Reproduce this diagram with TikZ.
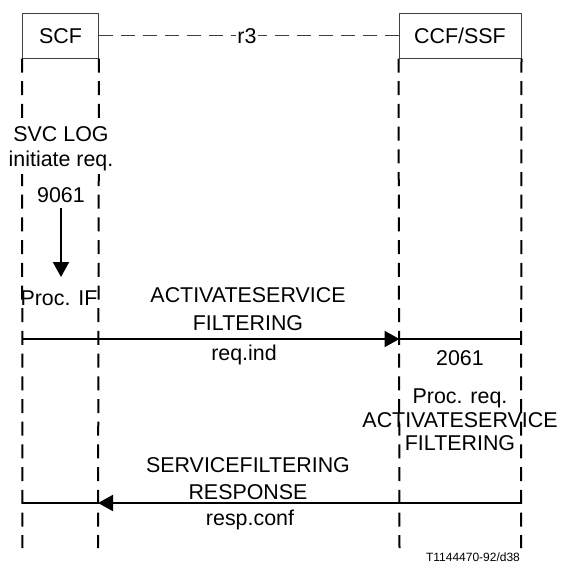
\documentclass[tikz,border=0pt]{standalone}
\usepackage{fontspec}
\setmainfont{Liberation Sans}
\usetikzlibrary{arrows.meta}
\tikzset{
  box/.style={draw=black!75, line width=1pt, minimum height=45pt, inner sep=0pt},
  lifeline/.style={line width=2pt, dash pattern=on 14pt off 8.7pt},
  linkline/.style={draw=black!75, line width=1pt, dash pattern=on 14pt off 8pt},
  msg/.style={line width=2pt},
  tip/.style={-{Triangle[length=15pt,width=16pt]}},
  lbl/.style={inner sep=0pt, anchor=base, font=\fontsize{21.4}{24}\selectfont},
  small/.style={inner sep=0pt, anchor=base, font=\fontsize{12}{14}\selectfont}
}
\begin{document}
\begin{tikzpicture}[x=1pt,y=-1pt]
\useasboundingbox (0,0) rectangle (562,571);
% boxes
\node[box, minimum width=76pt] (scf) at (60.5,35.5) {};
\node[lbl] (scft) at (60.5,43) {SCF};
\node[box, minimum width=122pt] (ccf) at (460,35.5) {};
\node[lbl] (ccft) at (460,43) {CCF/SSF};
% r3 link
\draw[linkline] (scf.east) -- (ccf.east -| ccf.west);
\node[lbl, fill=white, inner xsep=1pt] (r3) at (247,43) {r3};
% lifelines
\coordinate (l1b) at (22.5,548);
\coordinate (l2b) at (98,548);
\coordinate (l3b) at (399.5,548);
\coordinate (l4b) at (521,548);
\draw[lifeline] (scf.south west) -- (l1b);
\draw[lifeline] (scf.south east) -- (l2b);
\draw[lifeline] (ccf.south west) -- (l3b);
\draw[lifeline] (ccf.south east) -- (l4b);
% SCF local
\node[lbl, fill=white, inner ysep=4pt, inner xsep=1pt] (svc) at (61,141) {SVC LOG};
\node[lbl, fill=white, inner ysep=4pt, inner xsep=1pt] (init) at (61,166) {initiate req.};
\node[lbl] (n9061) at (61,202.5) {9061};
\coordinate (sa) at (61,208);
\coordinate (sb) at (61,277);
\draw[msg, tip] (sa) -- (sb);
\node[lbl] (procif) at (59,305.5) {Proc. IF};
% message 1
\coordinate (m1a) at (22.5,339);
\coordinate (m1b) at (399.5,339);
\coordinate (m1c) at (521,339);
\draw[msg, tip] (m1a) -- (m1b);
\draw[msg] (m1b) -- (m1c);
\node[lbl] (a1) at (248,302.5) {ACTIVATESERVICE};
\node[lbl] (a2) at (248,330.5) {FILTERING};
\node[lbl] (a3) at (244,360) {req.ind};
% CCF local
\node[lbl] (n2061) at (460,365.5) {2061};
\node[lbl] (pr1) at (460,403) {Proc. req.};
\node[lbl] (pr2) at (460,427.5) {ACTIVATESERVICE};
\node[lbl] (pr3) at (460,450) {FILTERING};
% message 2
\coordinate (m2a) at (521,503);
\coordinate (m2b) at (98,503);
\coordinate (m2c) at (22.5,503);
\draw[msg, tip] (m2a) -- (m2b);
\draw[msg] (m2b) -- (m2c);
\node[lbl] (b1) at (248,472.5) {SERVICEFILTERING};
\node[lbl] (b2) at (248,499.5) {RESPONSE};
\node[lbl] (b3) at (250,525) {resp.conf};
% figure id
\node[small] (fid) at (473,561) {T1144470-92/d38};
\end{tikzpicture}
\end{document}
